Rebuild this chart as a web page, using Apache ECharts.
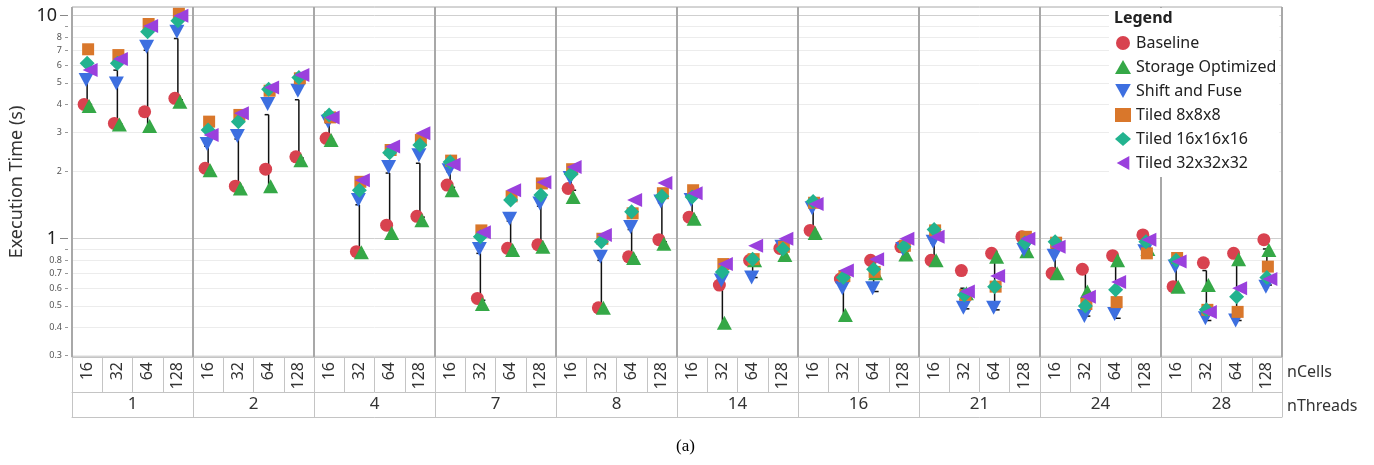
<!DOCTYPE html>
<html><head><meta charset="utf-8">
<script src="https://cdn.jsdelivr.net/npm/echarts@6/dist/echarts.min.js"></script>
<style>html,body{margin:0;padding:0;background:#fff}#c{width:1374px;height:465px}</style>
</head><body><div id="c"></div>
<script>
const nThreads = ['1','2','4','7','8','14','16','21','24','28'];
const nCells = ['16','32','64','128'];
const seriesNames = ['Baseline','Storage Optimized','Shift and Fuse','Tiled 8x8x8','Tiled 16x16x16','Tiled 32x32x32'];
const baseline   = [4.0,3.29,3.71,4.26, 2.07,1.72,2.05,2.33, 2.82,0.875,1.15,1.26, 1.74,0.54,0.906,0.94, 1.68,0.49,0.83,0.99, 1.25,0.62,0.80,0.905, 1.09,0.66,0.80,0.92, 0.80,0.72,0.86,1.02, 0.70,0.73,0.84,1.04, 0.61,0.78,0.86,0.99];
const storageOpt = [3.94,3.25,3.2,4.11, 2.03,1.68,1.72,2.25, 2.77,0.87,1.06,1.21, 1.65,0.51,0.89,0.92, 1.54,0.49,0.82,0.95, 1.23,0.42,0.80,0.845, 1.06,0.455,0.70,0.85, 0.80,0.57,0.83,0.88, 0.70,0.58,0.80,0.90, 0.61,0.62,0.81,0.89];
const shiftFuse  = [5.15,4.97,7.26,8.48, 2.66,2.89,4.02,4.61, 3.35,1.49,2.10,2.37, 2.03,0.90,1.23,1.44, 1.87,0.83,1.13,1.47, 1.49,0.65,0.67,0.92, 1.37,0.60,0.60,0.90, 0.97,0.49,0.49,0.89, 0.84,0.45,0.46,0.88, 0.75,0.44,0.43,0.61];
const tiled8     = [7.07,6.66,9.18,10.2, 3.35,3.59,4.61,5.24, 3.5,1.80,2.50,2.77, 2.24,1.09,1.55,1.77, 2.05,1.0,1.30,1.60, 1.65,0.77,0.81,0.92, 1.45,0.68,0.71,0.93, 1.09,0.56,0.61,1.02, 0.96,0.51,0.52,0.86, 0.82,0.48,0.47,0.75];
const tiled16    = [6.12,6.12,8.48,9.5, 3.07,3.35,4.68,5.29, 3.59,1.65,2.43,2.63, 2.21,1.02,1.49,1.57, 1.95,0.97,1.32,1.55, 1.54,0.71,0.81,0.90, 1.47,0.67,0.73,0.92, 1.10,0.56,0.61,0.96, 0.97,0.50,0.59,0.97, 0.80,0.48,0.55,0.67];
const tiled32    = [5.71,6.4,9.0,10.0, 2.92,3.65,4.77,5.42, 3.5,1.83,2.59,2.97, 2.15,1.07,1.65,1.79, 2.10,1.04,1.49,1.78, 1.6,0.77,0.93,1.0, 1.43,0.72,0.81,1.0, 1.02,0.58,0.68,1.0, 0.92,0.55,0.64,0.99, 0.79,0.47,0.60,0.66];
const rangeLow   = [4.0,3.28,3.15,4.2, 2.0,1.7,1.72,2.3, 2.8,0.87,1.06,1.25, 1.7,0.53,0.9,0.93, 1.65,0.49,0.83,0.97, 1.25,0.42,0.67,0.88, 1.07,0.45,0.58,0.88, 0.8,0.485,0.48,0.9, 0.7,0.45,0.44,0.88, 0.6,0.43,0.43,0.62];
const rangeHigh  = [5.3,5.7,7.0,7.9, 2.6,2.8,3.6,4.2, 3.3,1.42,1.97,2.18, 2.0,0.86,1.2,1.4, 1.9,0.8,1.1,1.45, 1.5,0.72,0.8,0.95, 1.37,0.6,0.8,0.95, 0.96,0.6,0.82,1.0, 0.9,0.72,0.82,0.99, 0.78,0.72,0.82,0.9];
const majorTicks = [1,10];
const minorTicks = [0.3,0.4,0.5,0.6,0.7,0.8,0.9,2,3,4,5,6,7,8,9];
const minorLabels = [0.3,0.4,0.5,0.6,0.7,0.8,2,3,4,5,6,7,8];

const values = [baseline, storageOpt, shiftFuse, tiled8, tiled16, tiled32];
const colors = ['#d8424f','#35a847','#3d6fe0','#d9772b','#22b38f','#9a40dd'];
const symbols = ['circle','triangle','triangle','rect','diamond','triangle'];
const rotates = [0,0,180,0,0,90];
const legendIcons = ['circle','triangle','path://M0,0 L10,0 L5,9 Z','rect','diamond','path://M10,0 L10,10 L1,5 Z'];
const sizes = [13,[15,14],[15,14],12,[15,15],[14,15]];
const offsets = [[-3,0],[2,0],[-1,0],[1,0],[0,0],[3,0]];

const cats = [];
nThreads.forEach(t => nCells.forEach(c => cats.push(t + '|' + c)));

const font = 'Noto Sans';
const chart = echarts.init(document.getElementById('c'), null, {renderer:'canvas'});

const series = values.map((arr, s) => ({
  name: seriesNames[s], type: 'scatter', xAxisIndex: 0, yAxisIndex: 0,
  symbol: symbols[s], symbolRotate: rotates[s], symbolSize: sizes[s], symbolOffset: offsets[s],
  itemStyle: {color: colors[s], opacity: 1}, z: 3,
  data: arr.map((v, i) => [i, v])
}));
series.unshift({
  type: 'custom', name: 'range', xAxisIndex: 0, yAxisIndex: 0, z: 2, silent: true,
  data: rangeLow.map((v, i) => [i, v, rangeHigh[i]]),
  encode: {x: 0, y: [1, 2]},
  renderItem: (params, api) => {
    const lo = api.coord([api.value(0), api.value(1)]);
    const hi = api.coord([api.value(0), api.value(2)]);
    const st = {stroke: '#111', lineWidth: 1.5};
    return {type: 'group', children: [
      {type: 'line', shape: {x1: lo[0], y1: lo[1], x2: hi[0], y2: hi[1]}, style: st},
      {type: 'line', shape: {x1: lo[0], y1: lo[1], x2: lo[0] + 5, y2: lo[1]}, style: st},
      {type: 'line', shape: {x1: hi[0] - 4, y1: hi[1], x2: hi[0], y2: hi[1]}, style: st}
    ]};
  }
});

const ymin = 0.295, ymax = 10.94;
chart.setOption({
  animation: false,
  textStyle: {fontFamily: font},
  grid: {left: 72, right: 92, top: 7, bottom: 108, show: true, borderColor: '#a8a8a8', borderWidth: 1,
         backgroundColor: 'transparent', containLabel: false, outerBoundsMode: 'none'},
  title: {text: 'Legend', left: 1109, top: 8, padding: [2, 5], textStyle: {fontFamily: font, fontSize: 16, fontWeight: 'bold', color: '#222'}},
  legend: {
    orient: 'vertical', left: 1109, top: 8, padding: [27, 3, 6, 6],
    backgroundColor: '#fff', itemWidth: 16, itemHeight: 14, itemGap: 8,
    textStyle: {fontFamily: font, fontSize: 16, color: '#222'},
    data: seriesNames.map((n, i) => ({name: n, icon: legendIcons[i]}))
  },
  xAxis: [
    {type: 'category', data: cats, position: 'bottom', offset: 0,
     axisLine: {show: true, lineStyle: {color: '#c4c4c4'}},
     axisTick: {show: true, interval: 0, length: 35, lineStyle: {color: '#c4c4c4'}},
     axisLabel: {interval: 0, rotate: 90, margin: 5, fontSize: 16, color: '#333', fontFamily: font,
                 formatter: v => v.split('|')[1]},
     splitLine: {show: false}},
    {type: 'category', data: nThreads, position: 'bottom', offset: 35,
     axisLine: {show: true, lineStyle: {color: '#c4c4c4'}},
     axisTick: {show: true, interval: 0, length: 25, lineStyle: {color: '#c4c4c4'}},
     axisLabel: {interval: 0, fontSize: 17, color: '#333', margin: 4, fontFamily: font},
     splitLine: {show: true, interval: 0, lineStyle: {color: '#a8a8a8', width: 2}}},
    {type: 'category', data: [''], position: 'bottom', offset: 60,
     axisLine: {show: true, lineStyle: {color: '#c4c4c4'}},
     axisTick: {show: false}, axisLabel: {show: false}, splitLine: {show: false}}
  ],
  yAxis: [
    {type: 'log', logBase: 10, min: ymin, max: ymax, position: 'left', offset: 4,
     name: 'Execution Time (s)', nameLocation: 'middle', nameGap: 40,
     nameTextStyle: {fontSize: 18, color: '#333', fontFamily: font},
     axisLine: {show: false},
     axisTick: {show: true, length: 8, customValues: majorTicks, lineStyle: {color: '#888'}},
     axisLabel: {customValues: majorTicks, fontSize: 18, color: '#222', margin: 11, fontFamily: font, formatter: v => String(+v)},
     splitLine: {show: true, lineStyle: {color: '#cfcfcf'}}},
    {type: 'log', logBase: 10, min: ymin, max: ymax, position: 'left', offset: 4,
     axisLine: {show: false},
     axisTick: {show: true, length: 3, customValues: minorTicks, lineStyle: {color: '#999'}},
     axisLabel: {customValues: minorLabels, fontSize: 9, color: '#555', margin: 6, fontFamily: font, formatter: v => String(+v)},
     splitLine: {show: true, lineStyle: {color: '#ececec'}}}
  ],
  graphic: [
    {type: 'text', left: 1287, top: 364, style: {text: 'nCells', font: '16px "Noto Sans"', fill: '#333'}},
    {type: 'text', left: 1287, top: 398, style: {text: 'nThreads', font: '16px "Noto Sans"', fill: '#333'}},
    {type: 'text', left: 676, top: 438, style: {text: '(a)', font: '17px "Liberation Serif"', fill: '#000'}}
  ],
  series: series
});
</script></body></html>
